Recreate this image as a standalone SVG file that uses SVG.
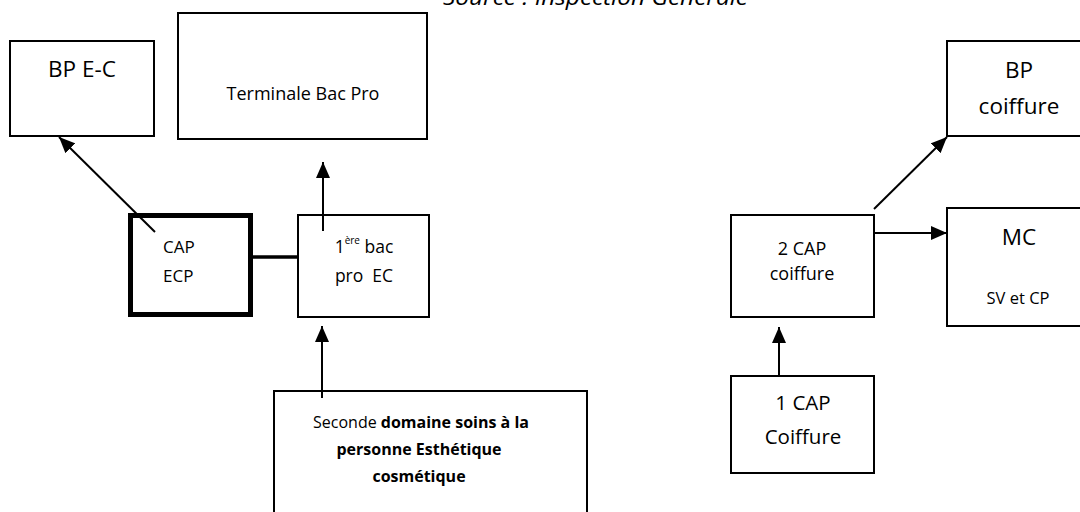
<svg xmlns="http://www.w3.org/2000/svg" width="1080" height="512" viewBox="0 0 1080 512">
<style>
.box{fill:#fff;stroke:#000;stroke-width:2}
.thick{fill:#fff;stroke:#000;stroke-width:5}
.t{font-family:"Open Sans","Liberation Sans",sans-serif;fill:#000}
.c{text-anchor:middle}
.b{font-weight:bold}
.ln{stroke:#000;stroke-width:2;fill:none}
</style>
<defs>
<marker id="ah" markerUnits="userSpaceOnUse" markerWidth="16" markerHeight="14" viewBox="0 0 16 14" refX="16" refY="7" orient="auto">
<path d="M0,0 L16,7 L0,14 Z" fill="#000"/>
</marker>
</defs>
<rect width="1080" height="512" fill="#fff"/>
<text class="t" x="443" y="5" font-size="22" font-style="italic" textLength="305" lengthAdjust="spacingAndGlyphs">Source : Inspection Générale</text>

<g id="bp-ec">
<rect class="box" x="10" y="41" width="144" height="95"/>
<text class="t c" x="82" y="77" font-size="22.5">BP E-C</text>
</g>
<g id="terminale">
<rect class="box" x="178" y="13" width="249" height="126"/>
<text class="t c" x="303" y="100" font-size="18">Terminale Bac Pro</text>
</g>
<g id="cap-ecp">
<rect class="thick" x="130.5" y="215.5" width="120" height="99"/>
<text class="t" x="163" y="253" font-size="17">CAP</text>
<text class="t" x="163" y="282" font-size="17">ECP</text>
</g>
<g id="premiere">
<rect class="box" x="298" y="215" width="131" height="102"/>
<text class="t c" x="364" y="253" font-size="17.5">1<tspan font-size="10" dy="-9">ère</tspan><tspan dy="9"> bac</tspan></text>
<text class="t c" x="364" y="282" font-size="17.5" xml:space="preserve">pro  EC</text>
</g>
<g id="seconde">
<rect class="box" x="274" y="391" width="313" height="130"/>
<text class="t c" x="421" y="428" font-size="16">Seconde <tspan class="b">domaine soins à la</tspan></text>
<text class="t c b" x="419" y="455" font-size="16">personne Esthétique</text>
<text class="t c b" x="419" y="482" font-size="16">cosmétique</text>
</g>
<g id="bp-coiffure">
<rect class="box" x="947" y="41" width="145" height="95"/>
<text class="t c" x="1019" y="78" font-size="22.5">BP</text>
<text class="t c" x="1019" y="114" font-size="22.5">coiffure</text>
</g>
<g id="mc">
<rect class="box" x="947" y="208" width="145" height="118"/>
<text class="t c" x="1019" y="245" font-size="22.5">MC</text>
<text class="t c" x="1018" y="304" font-size="16.5">SV et CP</text>
</g>
<g id="cap2">
<rect class="box" x="731" y="215" width="143" height="102"/>
<text class="t c" x="802" y="255" font-size="18">2 CAP</text>
<text class="t c" x="802" y="280" font-size="18">coiffure</text>
</g>
<g id="cap1">
<rect class="box" x="731" y="376" width="143" height="97"/>
<text class="t c" x="803" y="410" font-size="20.5">1 CAP</text>
<text class="t c" x="803" y="444" font-size="20.5">Coiffure</text>
</g>

<g id="connectors">
<line x1="253" y1="257" x2="298" y2="257" stroke="#000" stroke-width="3.5"/>
<line class="ln" x1="155" y1="232" x2="59" y2="137" marker-end="url(#ah)"/>
<line class="ln" x1="323" y1="231" x2="323" y2="162" marker-end="url(#ah)"/>
<line class="ln" x1="322" y1="398" x2="322" y2="326" marker-end="url(#ah)"/>
<line class="ln" x1="874" y1="209" x2="947" y2="137" marker-end="url(#ah)"/>
<line class="ln" x1="874" y1="233" x2="947" y2="233" marker-end="url(#ah)"/>
<line class="ln" x1="779" y1="375" x2="779" y2="327" marker-end="url(#ah)"/>
</g>
</svg>
